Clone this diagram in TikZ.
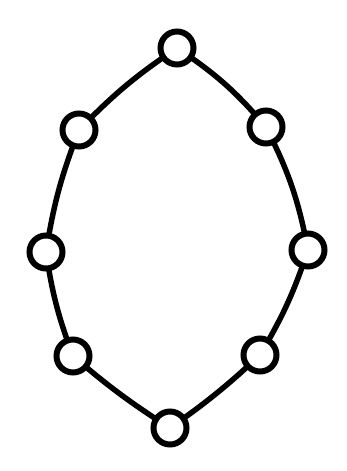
\documentclass[tikz,border=0pt]{standalone}
\begin{document}
\begin{tikzpicture}[x=1pt,y=-1pt,
  ring/.style={circle,draw=black,line width=6pt,fill=white,minimum size=33pt,inner sep=0pt},
  link/.style={line width=5.5pt,black}]
\useasboundingbox (0,0) rectangle (346,471);
\coordinate (pa) at (177,48);
\coordinate (pb) at (266,127);
\coordinate (pc) at (308,250);
\coordinate (pd) at (260,355);
\coordinate (pe) at (170,428);
\coordinate (pf) at (73,356);
\coordinate (pg) at (46,252);
\coordinate (ph) at (79,130);
\draw[link] (pa) to[bend left=8] (pb) to[bend left=8] (pc) to[bend left=6] (pd) to[bend left=4] (pe)
  to[bend left=4] (pf) to[bend left=6] (pg) to[bend left=6] (ph) to[bend left=6] (pa);
\node[ring] (a) at (pa) {};
\node[ring] (b) at (pb) {};
\node[ring] (c) at (pc) {};
\node[ring] (d) at (pd) {};
\node[ring] (e) at (pe) {};
\node[ring] (f) at (pf) {};
\node[ring] (g) at (pg) {};
\node[ring] (h) at (ph) {};
\end{tikzpicture}
\end{document}
